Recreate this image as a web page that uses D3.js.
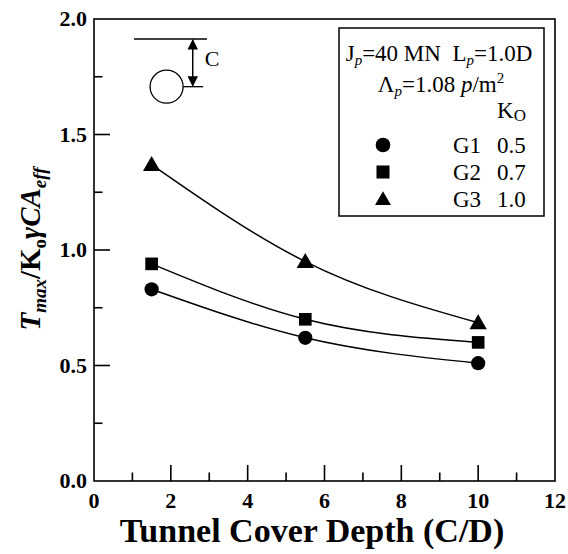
<!DOCTYPE html>
<html>
<head>
<meta charset="utf-8">
<script src="https://cdnjs.cloudflare.com/ajax/libs/d3/7.8.5/d3.min.js"></script>
<style>
  body { margin: 0; background: #fff; }
  svg text { font-family: "Liberation Serif", "Times New Roman", serif; }
</style>
</head>
<body>
<div id="chart"></div>
<script>
// data
let depths = [1.5, 5.5, 10]
let g1Values = [0.83, 0.62, 0.51]
let g2Values = [0.94, 0.70, 0.60]
let g3Values = [1.37, 0.95, 0.685]
let seriesNames = ['G1', 'G2', 'G3']
let seriesK0 = ['0.5', '0.7', '1.0']
let seriesSymbols = [d3.symbolCircle, d3.symbolSquare, d3.symbolTriangle]
let xTicks = [0, 2, 4, 6, 8, 10, 12]
let xMinorTicks = [1, 3, 5, 7, 9, 11]
let yTicks = [0.0, 0.5, 1.0, 1.5, 2.0]
let yMinorTicks = [0.25, 0.75, 1.25, 1.75]

let width = 568
let height = 554
let margin = { top: 19, right: 13, bottom: 73, left: 94 }
let plotWidth = width - margin.left - margin.right
let plotHeight = height - margin.top - margin.bottom

let svg = d3.select('#chart')
  .append('svg')
    .attr('width', width)
    .attr('height', height)

let plot = svg.append('g')
  .attr('transform', `translate(${margin.left}, ${margin.top})`)

let xScale = d3.scaleLinear().domain([0, 12]).range([0, plotWidth])
let yScale = d3.scaleLinear().domain([0, 2]).range([plotHeight, 0])

// frame
plot.append('rect')
  .attr('width', plotWidth)
  .attr('height', plotHeight)
  .attr('fill', 'none')
  .attr('stroke', 'black')
  .attr('stroke-width', 1.6)

// inward ticks on the bottom and left sides
let majorLen = 16
let minorLen = 8.5
let tickW = 1.6
let xTickData = xTicks.filter((d) => d > 0 && d < 12).map((d) => ({ v: d, len: majorLen }))
  .concat(xMinorTicks.map((d) => ({ v: d, len: minorLen })))
let yTickData = yTicks.filter((d) => d > 0 && d < 2).map((d) => ({ v: d, len: majorLen }))
  .concat(yMinorTicks.map((d) => ({ v: d, len: minorLen })))

plot.append('g').selectAll('rect')
  .data(xTickData)
  .join('rect')
    .attr('x', (d) => xScale(d.v) - tickW / 2)
    .attr('y', (d) => plotHeight - d.len)
    .attr('width', tickW)
    .attr('height', (d) => d.len)
    .attr('fill', 'black')
plot.append('g').selectAll('rect')
  .data(yTickData)
  .join('rect')
    .attr('x', 0)
    .attr('y', (d) => yScale(d.v) - tickW / 2)
    .attr('width', (d) => d.len)
    .attr('height', tickW)
    .attr('fill', 'black')

plot.append('g').selectAll('text')
  .data(xTicks)
  .join('text')
    .attr('x', (d) => xScale(d))
    .attr('y', plotHeight + 27)
    .attr('text-anchor', 'middle')
    .attr('font-size', 22)
    .attr('font-weight', 'bold')
    .text((d) => d)

plot.append('g').selectAll('text')
  .data(yTicks)
  .join('text')
    .attr('x', -7)
    .attr('y', (d) => yScale(d))
    .attr('dy', '0.33em')
    .attr('text-anchor', 'end')
    .attr('font-size', 22)
    .attr('font-weight', 'bold')
    .text((d) => d.toFixed(1))

// axis titles
svg.append('text')
  .attr('x', 312)
  .attr('y', 542)
  .attr('text-anchor', 'middle')
  .attr('font-size', 34)
  .attr('font-weight', 'bold')
  .text('Tunnel Cover Depth (C/D)')

let yTitle = svg.append('text')
  .attr('transform', 'translate(40, 249) rotate(-90)')
  .attr('text-anchor', 'middle')
  .attr('font-size', 29)
  .attr('font-weight', 'bold')
yTitle.append('tspan').attr('font-style', 'italic').text('T')
yTitle.append('tspan').attr('font-style', 'italic').attr('font-size', 19).attr('dy', 6).text('max')
yTitle.append('tspan').attr('dy', -6).text('/K')
yTitle.append('tspan').attr('font-size', 19).attr('dy', 6).text('o')
yTitle.append('tspan').attr('font-style', 'italic').attr('dy', -6).text('γCA')
yTitle.append('tspan').attr('font-style', 'italic').attr('font-size', 19).attr('dy', 6).text('eff')

// series
let allSeries = [g1Values, g2Values, g3Values]
let line = d3.line()
  .x((d, i) => xScale(depths[i]))
  .y((d) => yScale(d))
  .curve(d3.curveMonotoneX)

allSeries.forEach((values, s) => {
  plot.append('path')
    .datum(values)
    .attr('d', line)
    .attr('fill', 'none')
    .attr('stroke', '#000')
    .attr('stroke-width', 1.5)

  plot.append('g').selectAll('path')
    .data(values)
    .join('path')
      .attr('transform', (d, i) => `translate(${xScale(depths[i])}, ${yScale(d) + (s === 2 ? 1.5 : 0)})`)
      .attr('d', d3.symbol().type(seriesSymbols[s]).size(s === 2 ? 130 : 160))
      .attr('fill', '#000')
})

// tunnel sketch (positions in data units)
let sketchTop = { x1: 1.04, x2: 2.94, y: 1.913 }
let sketchTunnel = { x: 1.89, y: 1.707, r: 16.5 }
let sketchArrowX = 2.57
let sketchLineEnd = 2.84

let defs = svg.append('defs')
defs.append('marker')
  .attr('id', 'arrow')
  .attr('viewBox', '0 0 10 10')
  .attr('refX', 9).attr('refY', 5)
  .attr('markerWidth', 7).attr('markerHeight', 7)
  .attr('orient', 'auto-start-reverse')
  .append('path')
    .attr('d', 'M0,0 L10,5 L0,10 z')
    .attr('fill', '#000')

plot.append('line')
  .attr('x1', xScale(sketchTop.x1)).attr('x2', xScale(sketchTop.x2))
  .attr('y1', yScale(sketchTop.y)).attr('y2', yScale(sketchTop.y))
  .attr('stroke', '#000').attr('stroke-width', 1.5)
plot.append('circle')
  .attr('cx', xScale(sketchTunnel.x)).attr('cy', yScale(sketchTunnel.y))
  .attr('r', sketchTunnel.r)
  .attr('fill', 'none').attr('stroke', '#000').attr('stroke-width', 1.3)
plot.append('line')
  .attr('x1', xScale(sketchTunnel.x) + sketchTunnel.r).attr('x2', xScale(sketchLineEnd))
  .attr('y1', yScale(sketchTunnel.y)).attr('y2', yScale(sketchTunnel.y))
  .attr('stroke', '#000').attr('stroke-width', 1.3)
plot.append('line')
  .attr('x1', xScale(sketchArrowX)).attr('x2', xScale(sketchArrowX))
  .attr('y1', yScale(sketchTop.y) + 1).attr('y2', yScale(sketchTunnel.y) - 1)
  .attr('stroke', '#000').attr('stroke-width', 1.5)
  .attr('marker-start', 'url(#arrow)')
  .attr('marker-end', 'url(#arrow)')
plot.append('text')
  .attr('x', xScale(sketchArrowX) + 12)
  .attr('y', yScale(1.83))
  .attr('dy', '0.35em')
  .attr('font-size', 22)
  .text('C')

// legend
let legend = svg.append('g')
legend.append('rect')
  .attr('x', 339).attr('y', 28)
  .attr('width', 205).attr('height', 188)
  .attr('fill', '#fff')
  .attr('stroke', '#000')
  .attr('stroke-width', 1.5)

let l1 = legend.append('text').attr('x', 439).attr('y', 61).attr('text-anchor', 'middle').attr('font-size', 23)
l1.append('tspan').text('J')
l1.append('tspan').attr('font-style', 'italic').attr('font-size', 15).attr('dy', 4).text('p')
l1.append('tspan').attr('dy', -4).text('=40 MN\u00a0\u00a0L')
l1.append('tspan').attr('font-style', 'italic').attr('font-size', 15).attr('dy', 4).text('p')
l1.append('tspan').attr('dy', -4).text('=1.0D')

let l2 = legend.append('text').attr('x', 441).attr('y', 92).attr('text-anchor', 'middle').attr('font-size', 23)
l2.append('tspan').text('Λ')
l2.append('tspan').attr('font-style', 'italic').attr('font-size', 15).attr('dy', 4).text('p')
l2.append('tspan').attr('dy', -4).text('=1.08 ')
l2.append('tspan').attr('font-style', 'italic').text('p')
l2.append('tspan').text('/m')
l2.append('tspan').attr('font-size', 15).attr('dy', -9).text('2')

let l3 = legend.append('text').attr('x', 497).attr('y', 118).attr('font-size', 23)
l3.append('tspan').text('K')
l3.append('tspan').attr('font-size', 17).attr('dy', 3).text('O')

seriesNames.forEach((name, i) => {
  let y = 145 + i * 27
  legend.append('path')
    .attr('transform', `translate(383, ${y + (i === 2 ? 1.5 : 0)})`)
    .attr('d', d3.symbol().type(seriesSymbols[i]).size(i === 2 ? 110 : 170))
    .attr('fill', '#000')
  legend.append('text')
    .attr('x', 453).attr('y', y).attr('dy', '0.35em')
    .attr('font-size', 23)
    .text(name)
  legend.append('text')
    .attr('x', 497).attr('y', y).attr('dy', '0.35em')
    .attr('font-size', 23)
    .text(seriesK0[i])
})
</script>
</body>
</html>
